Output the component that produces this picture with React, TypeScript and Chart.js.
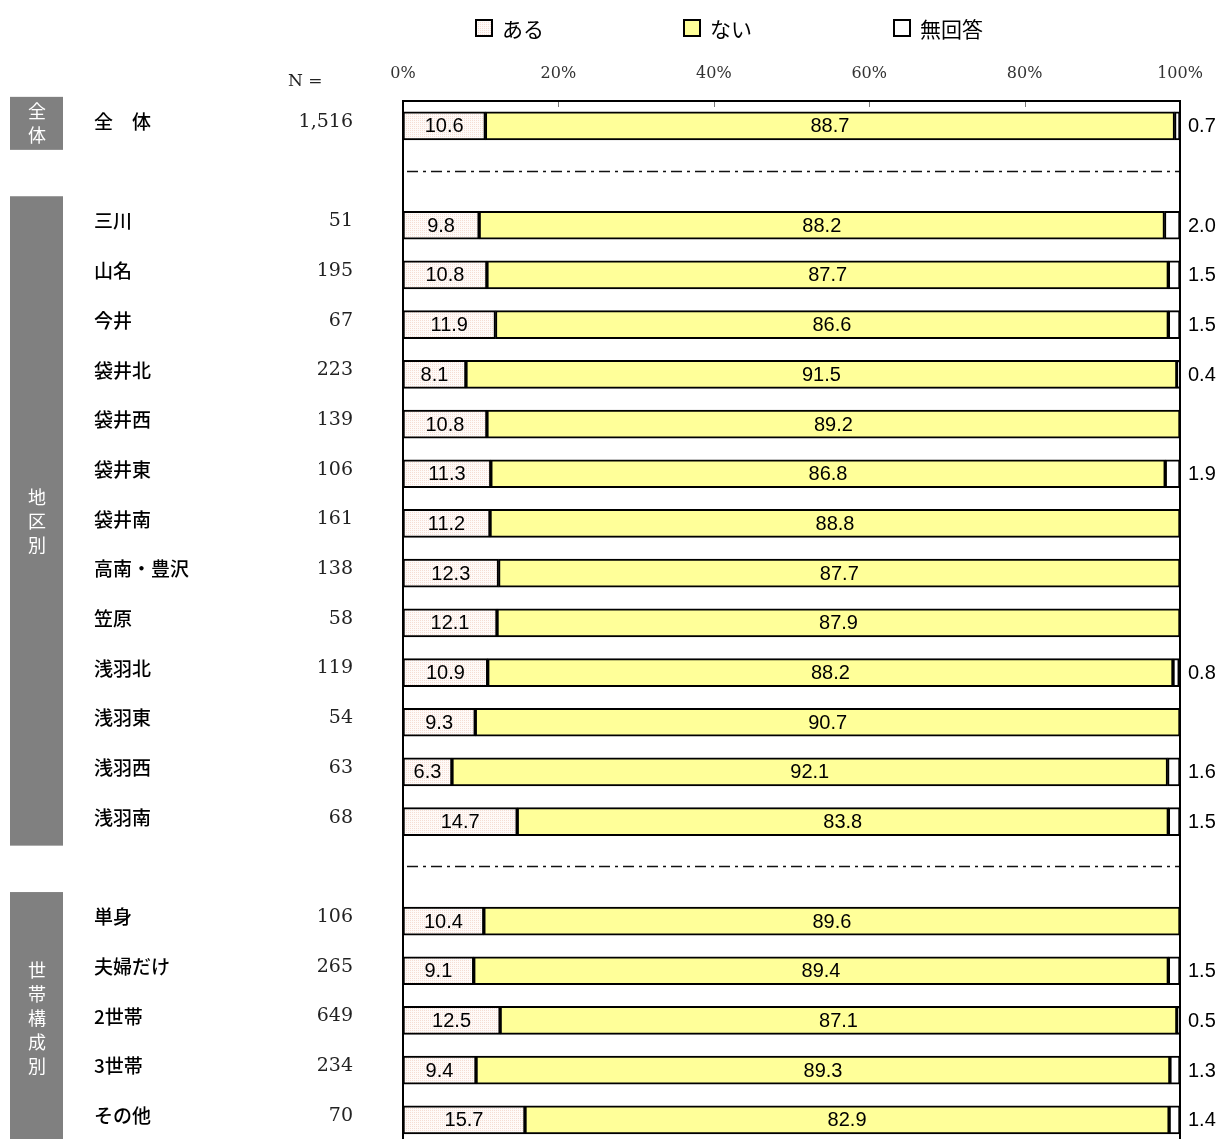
import React, { useEffect, useRef } from 'react';
import { Chart, registerables } from 'chart.js';

Chart.register(...registerables);

// ---- data ----
const categories = ['全　体', '', '三川', '山名', '今井', '袋井北', '袋井西', '袋井東', '袋井南', '高南・豊沢', '笠原', '浅羽北', '浅羽東', '浅羽西', '浅羽南', '', '単身', '夫婦だけ', '2世帯', '3世帯', 'その他'];
const nValues = ['1,516', '', '51', '195', '67', '223', '139', '106', '161', '138', '58', '119', '54', '63', '68', '', '106', '265', '649', '234', '70'];
const aru = [10.6, null, 9.8, 10.8, 11.9, 8.1, 10.8, 11.3, 11.2, 12.3, 12.1, 10.9, 9.3, 6.3, 14.7, null, 10.4, 9.1, 12.5, 9.4, 15.7];
const nai = [88.7, null, 88.2, 87.7, 86.6, 91.5, 89.2, 86.8, 88.8, 87.7, 87.9, 88.2, 90.7, 92.1, 83.8, null, 89.6, 89.4, 87.1, 89.3, 82.9];
const mukaitou = [0.7, null, 2.0, 1.5, 1.5, 0.4, 0, 1.9, 0, 0, 0, 0.8, 0, 1.6, 1.5, null, 0, 1.5, 0.5, 1.3, 1.4];
const seriesLabels = ['ある', 'ない', '無回答'];
const groupLabels = ['全体', '地区別', '世帯構成別'];
const groupFirstRow = [0, 2, 16];
const groupLastRow = [0, 14, 20];
const separatorRows = [1, 15];
const innerTicks = [20, 40, 60, 80];
const nHeader = 'N =';

// ---- layout constants ----
const W = 1221;
const H = 1170;
const PLOT_TOP = 101;
const PLOT_LEFT = 403;
const PLOT_RIGHT = 1180;
const LEGEND_X = [475, 683, 893];
const LEGEND_Y = 28;

const CJK = '"Noto Sans CJK JP", "Noto Sans", sans-serif';
const SERIF = '"DejaVu Serif", "Liberation Serif", serif';
const NUM = '"Liberation Sans", Arial, sans-serif';

function makePattern(ctx: CanvasRenderingContext2D) {
  const pc = document.createElement('canvas');
  pc.width = 2;
  pc.height = 2;
  const p = pc.getContext('2d')!;
  p.fillStyle = '#fefaf8';
  p.fillRect(0, 0, 2, 2);
  p.fillStyle = '#f5ddd3';
  p.fillRect(0, 0, 1, 1);
  return ctx.createPattern(pc, 'repeat') || '#fcf1ec';
}

const overlay = {
  id: 'overlay',
  afterDatasetsDraw(chart: any) {
    const ctx: CanvasRenderingContext2D = chart.ctx;
    const ca = chart.chartArea;
    const y = chart.scales.y;
    const x = chart.scales.x;
    ctx.save();

    // separators (dash-dot)
    ctx.strokeStyle = '#111';
    ctx.lineWidth = 1.5;
    ctx.setLineDash([11, 5, 3, 5]);
    separatorRows.forEach((r) => {
      const py = Math.round(y.getPixelForValue(r) - 5) + 0.5;
      ctx.beginPath();
      ctx.moveTo(ca.left + 4, py);
      ctx.lineTo(ca.right, py);
      ctx.stroke();
    });
    ctx.setLineDash([]);

    // inner tick marks
    ctx.strokeStyle = '#777';
    ctx.lineWidth = 1;
    innerTicks.forEach((t) => {
      const px = Math.round(x.getPixelForValue(t)) + 0.5;
      ctx.beginPath();
      ctx.moveTo(px, ca.top);
      ctx.lineTo(px, ca.top + 6);
      ctx.stroke();
    });

    // plot borders
    ctx.strokeStyle = '#000';
    ctx.lineWidth = 2;
    ctx.beginPath();
    ctx.moveTo(ca.left, H);
    ctx.lineTo(ca.left, ca.top);
    ctx.lineTo(ca.right, ca.top);
    ctx.lineTo(ca.right, H);
    ctx.stroke();

    // data labels
    ctx.fillStyle = '#000';
    ctx.font = `20px ${NUM}`;
    ctx.textBaseline = 'middle';
    chart.data.datasets.forEach((ds: any, di: number) => {
      const meta = chart.getDatasetMeta(di);
      meta.data.forEach((el: any, i: number) => {
        const v = ds.data[i];
        if (v === null || v === undefined || v === 0) return;
        const txt = v.toFixed(1);
        if (di === 2) {
          ctx.textAlign = 'left';
          ctx.fillText(txt, ca.right + 8, el.y + 1);
        } else {
          ctx.textAlign = 'center';
          ctx.fillText(txt, (el.x + el.base) / 2, el.y + 1);
        }
      });
    });

    // left side: group boxes
    groupLabels.forEach((g, gi) => {
      const top = y.getPixelForValue(groupFirstRow[gi]) - 29;
      const bottom = y.getPixelForValue(groupLastRow[gi]) + 24;
      ctx.fillStyle = '#808080';
      ctx.fillRect(10, top, 53, bottom - top);
      ctx.fillStyle = '#fff';
      ctx.font = `18px ${CJK}`;
      ctx.textAlign = 'center';
      ctx.textBaseline = 'middle';
      const chars = Array.from(g);
      const step = 24;
      const mid = (top + bottom) / 2;
      chars.forEach((c, ci) => {
        ctx.fillText(c, 37, mid + (ci - (chars.length - 1) / 2) * step);
      });
    });

    // category labels and N
    categories.forEach((c, i) => {
      const py = y.getPixelForValue(i) - 4;
      if (c) {
        ctx.fillStyle = '#000';
        ctx.font = `500 19px ${CJK}`;
        ctx.textAlign = 'left';
        ctx.textBaseline = 'middle';
        ctx.fillText(c, 94, py);
      }
      if (nValues[i]) {
        ctx.fillStyle = '#222';
        ctx.font = `19px ${SERIF}`;
        ctx.textAlign = 'right';
        ctx.fillText(nValues[i], 353, py);
      }
    });
    ctx.fillStyle = '#222';
    ctx.font = `17px ${SERIF}`;
    ctx.textAlign = 'left';
    ctx.fillText(nHeader, 288, 82);

    // legend
    chart.data.datasets.forEach((ds: any, di: number) => {
      const bx = LEGEND_X[di];
      ctx.fillStyle = ds.backgroundColor;
      ctx.fillRect(bx, LEGEND_Y - 9, 18, 18);
      ctx.strokeStyle = '#000';
      ctx.lineWidth = 2;
      ctx.strokeRect(bx + 1, LEGEND_Y - 8, 16, 16);
      ctx.fillStyle = '#000';
      ctx.font = `21px ${CJK}`;
      ctx.textAlign = 'left';
      ctx.textBaseline = 'middle';
      ctx.fillText(ds.label, bx + 27, LEGEND_Y + 1);
    });

    ctx.restore();
  },
};

export default function App() {
  const ref = useRef<HTMLCanvasElement | null>(null);

  useEffect(() => {
    document.body.style.margin = '0';
    document.body.style.overflow = 'hidden';
    const canvas = ref.current!;
    const ctx = canvas.getContext('2d')!;
    const pattern = makePattern(ctx);
    const bottomPad = H - (PLOT_TOP + categories.length * 49.7);
    const chart = new Chart(canvas, {
      type: 'bar',
      data: {
        labels: categories.map((_, i) => String(i)),
        datasets: [
          { label: seriesLabels[0], data: aru, backgroundColor: pattern as any, borderColor: '#000', borderWidth: 2, borderSkipped: false, barThickness: 28 },
          { label: seriesLabels[1], data: nai, backgroundColor: '#ffff99', borderColor: '#000', borderWidth: 2, borderSkipped: false, barThickness: 28 },
          { label: seriesLabels[2], data: mukaitou, backgroundColor: '#ffffff', borderColor: '#000', borderWidth: 2, borderSkipped: false, barThickness: 28 },
        ],
      },
      options: {
        indexAxis: 'y',
        responsive: false,
        animation: false,
        devicePixelRatio: 1,
        layout: { padding: { left: PLOT_LEFT, right: W - PLOT_RIGHT, top: 0, bottom: bottomPad } },
        plugins: { legend: { display: false }, tooltip: { enabled: false } },
        scales: {
          x: {
            position: 'top',
            stacked: true,
            min: 0,
            max: 100,
            ticks: {
              stepSize: 20,
              padding: 18,
              color: '#333',
              font: { family: SERIF, size: 16 },
              callback: (v: any) => v + '%',
            },
            grid: { display: false, drawTicks: false },
            border: { display: false },
            afterFit: (s: any) => { s.height = PLOT_TOP; },
          },
          y: {
            stacked: true,
            display: false,
          },
        },
      } as any,
      plugins: [overlay],
    });
    return () => chart.destroy();
  }, []);

  return (
    <div style={{ width: W, height: 1139, overflow: 'hidden' }}>
      <canvas ref={ref} width={W} height={H} style={{ display: 'block' }} />
    </div>
  );
}
